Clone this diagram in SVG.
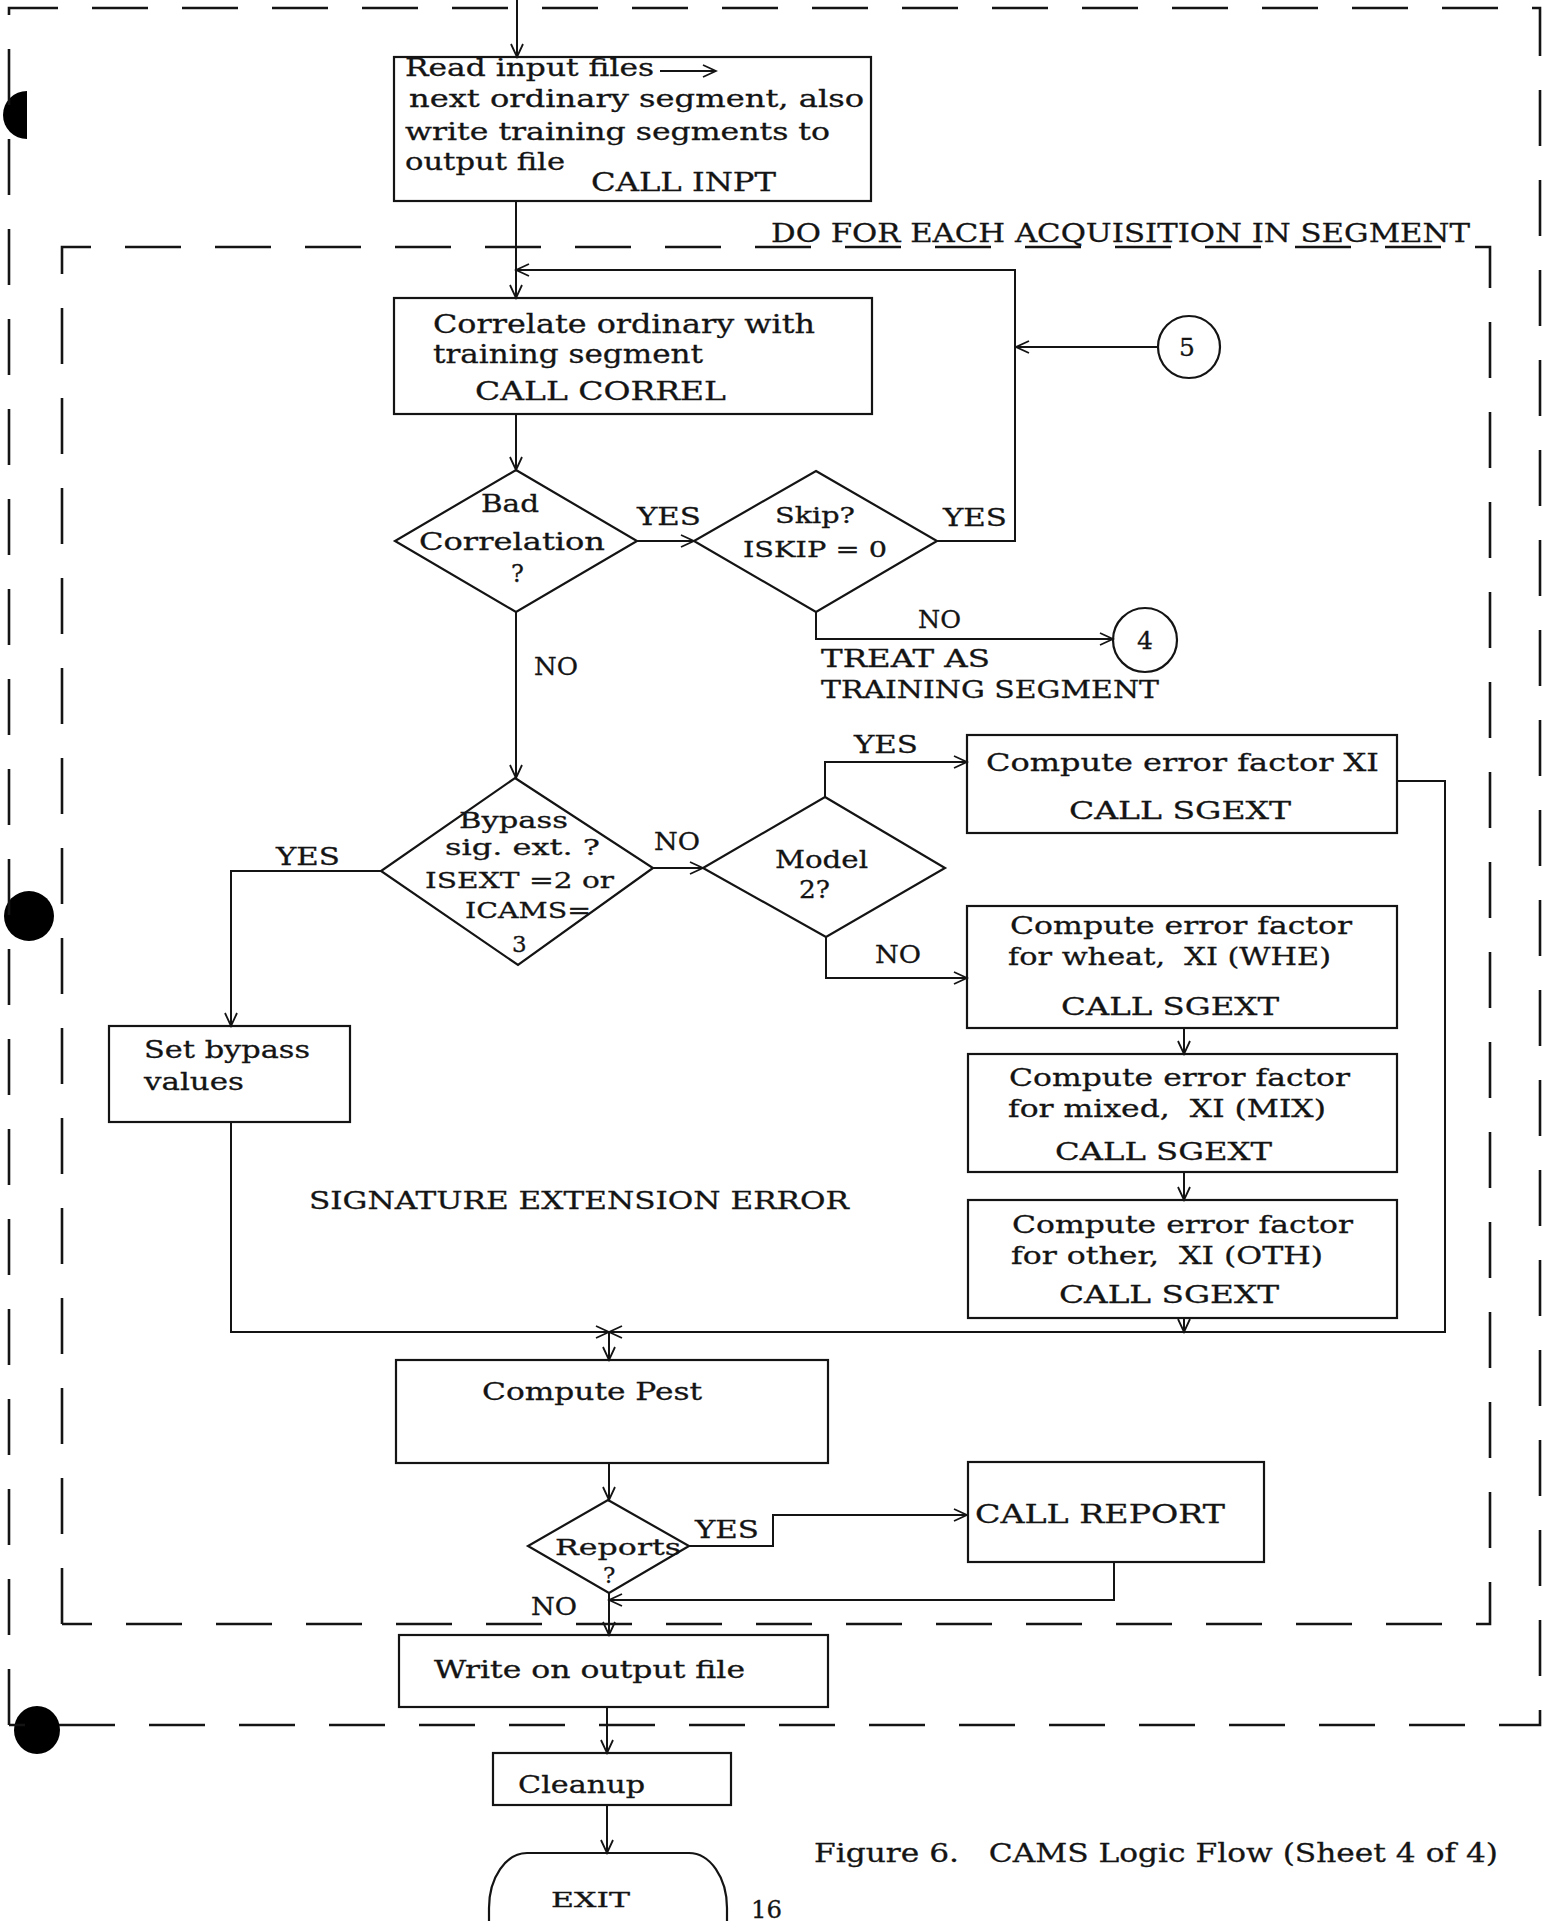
<svg xmlns="http://www.w3.org/2000/svg" width="1556" height="1921" viewBox="0 0 1556 1921">
  <style>
    .t { font-family: "DejaVu Serif", "Liberation Serif", serif; fill: #141414; stroke: #141414; stroke-width: 0.3; }
    .box { fill: none; stroke: #141414; stroke-width: 2.2; }
    .ln { fill: none; stroke: #141414; stroke-width: 2; }
    .arr { fill: none; stroke: #141414; stroke-width: 2; marker-end: url(#head); }
    .dash { fill: none; stroke: #141414; stroke-width: 2.6; stroke-dasharray: 56 34; }
    .hole { fill: #000; }
  </style>
  <defs>
    <marker id="head" markerUnits="userSpaceOnUse" markerWidth="16" markerHeight="16" refX="14" refY="7" orient="auto">
      <path d="M1,1 L14,7 L1,13" fill="none" stroke="#141414" stroke-width="1.8"/>
    </marker>
  </defs>
  <rect width="1556" height="1921" fill="#fff"/>

  <!-- binder holes -->
  <g id="holes">
    <path class="hole" d="M27,91 A24,24 0 0 0 27,139 Z"/>
    <ellipse class="hole" cx="29" cy="916" rx="25" ry="25"/>
    <ellipse class="hole" cx="37" cy="1730" rx="23" ry="24"/>
  </g>

  <!-- outer and inner loop frames -->
  <g id="frames">
    <path class="dash" d="M9,1725 V8 H1540 V1725 H9"/>
    <path class="dash" d="M62,1624 V247 H1490 V1624 H62"/>
    <text class="t" x="771" y="242" font-size="26" textLength="699" lengthAdjust="spacingAndGlyphs">DO FOR EACH ACQUISITION IN SEGMENT</text>
  </g>

  <!-- connectors -->
  <g id="connectors">
    <path class="arr" d="M517,0 V57"/>
    <path class="arr" d="M516,201 V298"/>
    <path class="arr" d="M937,541 H1015 V270 H516"/>
    <path class="arr" d="M1158,347 H1016"/>
    <path class="arr" d="M516,414 V470"/>
    <path class="arr" d="M637,541 H694"/>
    <path class="arr" d="M816,612 V639 H1113"/>
    <path class="arr" d="M516,612 V778"/>
    <path class="arr" d="M381,871 H231 V1026"/>
    <path class="arr" d="M653,868 H703"/>
    <path class="arr" d="M825,797 V762 H967"/>
    <path class="arr" d="M826,937 V978 H967"/>
    <path class="arr" d="M1184,1028 V1054"/>
    <path class="arr" d="M1184,1172 V1200"/>
    <path class="arr" d="M1184,1318 V1332"/>
    <path class="arr" d="M1397,781 H1445 V1332 H609"/>
    <path class="arr" d="M231,1122 V1332 H609"/>
    <path class="arr" d="M609,1332 V1360"/>
    <path class="arr" d="M609,1463 V1500"/>
    <path class="arr" d="M689,1546 H773 V1515 H967"/>
    <path class="arr" d="M1114,1562 V1600 H609"/>
    <path class="arr" d="M609,1593 V1635"/>
    <path class="arr" d="M607,1707 V1753"/>
    <path class="arr" d="M607,1805 V1853"/>
  </g>

  <!-- branch labels -->
  <g id="labels">
    <text class="t" x="637" y="525" font-size="25" textLength="64" lengthAdjust="spacingAndGlyphs">YES</text>
    <text class="t" x="943" y="526" font-size="25" textLength="64" lengthAdjust="spacingAndGlyphs">YES</text>
    <text class="t" x="918" y="628" font-size="24" textLength="43" lengthAdjust="spacingAndGlyphs">NO</text>
    <text class="t" x="821" y="667" font-size="24" textLength="169" lengthAdjust="spacingAndGlyphs">TREAT AS</text>
    <text class="t" x="821" y="698" font-size="24" textLength="338" lengthAdjust="spacingAndGlyphs">TRAINING SEGMENT</text>
    <text class="t" x="534" y="675" font-size="24" textLength="44" lengthAdjust="spacingAndGlyphs">NO</text>
    <text class="t" x="276" y="865" font-size="25" textLength="64" lengthAdjust="spacingAndGlyphs">YES</text>
    <text class="t" x="654" y="850" font-size="24" textLength="46" lengthAdjust="spacingAndGlyphs">NO</text>
    <text class="t" x="854" y="753" font-size="25" textLength="64" lengthAdjust="spacingAndGlyphs">YES</text>
    <text class="t" x="875" y="963" font-size="24" textLength="46" lengthAdjust="spacingAndGlyphs">NO</text>
    <text class="t" x="309" y="1209" font-size="25" textLength="540" lengthAdjust="spacingAndGlyphs">SIGNATURE EXTENSION ERROR</text>
    <text class="t" x="695" y="1538" font-size="24" textLength="64" lengthAdjust="spacingAndGlyphs">YES</text>
    <text class="t" x="531" y="1615" font-size="24" textLength="46" lengthAdjust="spacingAndGlyphs">NO</text>
    <text class="t" x="814" y="1862" font-size="26" textLength="684" lengthAdjust="spacingAndGlyphs" xml:space="preserve">Figure 6.   CAMS Logic Flow (Sheet 4 of 4)</text>
    <text class="t" x="751" y="1918" font-size="24" textLength="31" lengthAdjust="spacingAndGlyphs">16</text>
  </g>

  <g id="n-read">
    <rect class="box" x="394" y="57" width="477" height="144"/>
    <text class="t" x="405" y="76" font-size="24" textLength="249" lengthAdjust="spacingAndGlyphs">Read input files</text>
    <path class="ln" d="M660,71 H716" marker-end="url(#head)"/>
    <text class="t" x="409" y="107" font-size="24" textLength="455" lengthAdjust="spacingAndGlyphs">next ordinary segment, also</text>
    <text class="t" x="405" y="140" font-size="24" textLength="425" lengthAdjust="spacingAndGlyphs">write training segments to</text>
    <text class="t" x="405" y="170" font-size="24" textLength="160" lengthAdjust="spacingAndGlyphs">output file</text>
    <text class="t" x="591" y="191" font-size="26" textLength="185" lengthAdjust="spacingAndGlyphs">CALL INPT</text>
  </g>

  <g id="n-correl">
    <rect class="box" x="394" y="298" width="478" height="116"/>
    <text class="t" x="433" y="333" font-size="26" textLength="382" lengthAdjust="spacingAndGlyphs">Correlate ordinary with</text>
    <text class="t" x="433" y="363" font-size="26" textLength="270" lengthAdjust="spacingAndGlyphs">training segment</text>
    <text class="t" x="475" y="400" font-size="26" textLength="251" lengthAdjust="spacingAndGlyphs">CALL CORREL</text>
  </g>

  <g id="n-badcorr">
    <path class="box" d="M516,470 L637,541 L516,612 L395,541 Z"/>
    <text class="t" x="481" y="512" font-size="24" textLength="58" lengthAdjust="spacingAndGlyphs">Bad</text>
    <text class="t" x="419" y="550" font-size="24" textLength="186" lengthAdjust="spacingAndGlyphs">Correlation</text>
    <text class="t" x="511" y="582" font-size="24">?</text>
  </g>

  <g id="n-skip">
    <path class="box" d="M816,471 L937,541 L816,612 L694,541 Z"/>
    <text class="t" x="775" y="523" font-size="23" textLength="80" lengthAdjust="spacingAndGlyphs">Skip?</text>
    <text class="t" x="743" y="557" font-size="23" textLength="144" lengthAdjust="spacingAndGlyphs">ISKIP = 0</text>
  </g>

  <g id="n-conn5">
    <circle class="box" cx="1189" cy="347" r="31"/>
    <text class="t" x="1179" y="356" font-size="25">5</text>
  </g>

  <g id="n-conn4">
    <circle class="box" cx="1145" cy="640" r="32"/>
    <text class="t" x="1137" y="649" font-size="25">4</text>
  </g>

  <g id="n-bypass">
    <path class="box" d="M515,778 L653,868 L518,965 L381,871 Z"/>
    <text class="t" x="459" y="828" font-size="23" textLength="109" lengthAdjust="spacingAndGlyphs">Bypass</text>
    <text class="t" x="445" y="855" font-size="23" textLength="155" lengthAdjust="spacingAndGlyphs">sig. ext. ?</text>
    <text class="t" x="425" y="888" font-size="23" textLength="189" lengthAdjust="spacingAndGlyphs">ISEXT =2 or</text>
    <text class="t" x="465" y="918" font-size="23" textLength="126" lengthAdjust="spacingAndGlyphs">ICAMS=</text>
    <text class="t" x="512" y="952" font-size="23">3</text>
  </g>

  <g id="n-model">
    <path class="box" d="M825,797 L945,868 L826,937 L703,868 Z"/>
    <text class="t" x="775" y="868" font-size="24" textLength="93" lengthAdjust="spacingAndGlyphs">Model</text>
    <text class="t" x="799" y="898" font-size="24" textLength="31" lengthAdjust="spacingAndGlyphs">2?</text>
  </g>

  <g id="n-xi">
    <rect class="box" x="967" y="735" width="430" height="98"/>
    <text class="t" x="986" y="771" font-size="25" textLength="393" lengthAdjust="spacingAndGlyphs">Compute error factor XI</text>
    <text class="t" x="1069" y="819" font-size="25" textLength="222" lengthAdjust="spacingAndGlyphs">CALL SGEXT</text>
  </g>

  <g id="n-whe">
    <rect class="box" x="967" y="906" width="430" height="122"/>
    <text class="t" x="1010" y="934" font-size="25" textLength="342" lengthAdjust="spacingAndGlyphs">Compute error factor</text>
    <text class="t" x="1008" y="965" font-size="25" textLength="323" lengthAdjust="spacingAndGlyphs" xml:space="preserve">for wheat,  XI (WHE)</text>
    <text class="t" x="1061" y="1015" font-size="25" textLength="218" lengthAdjust="spacingAndGlyphs">CALL SGEXT</text>
  </g>

  <g id="n-mix">
    <rect class="box" x="968" y="1054" width="429" height="118"/>
    <text class="t" x="1009" y="1086" font-size="25" textLength="341" lengthAdjust="spacingAndGlyphs">Compute error factor</text>
    <text class="t" x="1008" y="1117" font-size="25" textLength="318" lengthAdjust="spacingAndGlyphs" xml:space="preserve">for mixed,  XI (MIX)</text>
    <text class="t" x="1055" y="1160" font-size="25" textLength="217" lengthAdjust="spacingAndGlyphs">CALL SGEXT</text>
  </g>

  <g id="n-oth">
    <rect class="box" x="968" y="1200" width="429" height="118"/>
    <text class="t" x="1012" y="1233" font-size="25" textLength="341" lengthAdjust="spacingAndGlyphs">Compute error factor</text>
    <text class="t" x="1011" y="1264" font-size="25" textLength="312" lengthAdjust="spacingAndGlyphs" xml:space="preserve">for other,  XI (OTH)</text>
    <text class="t" x="1059" y="1303" font-size="25" textLength="220" lengthAdjust="spacingAndGlyphs">CALL SGEXT</text>
  </g>

  <g id="n-setbypass">
    <rect class="box" x="109" y="1026" width="241" height="96"/>
    <text class="t" x="144" y="1058" font-size="25" textLength="166" lengthAdjust="spacingAndGlyphs">Set bypass</text>
    <text class="t" x="144" y="1090" font-size="25" textLength="100" lengthAdjust="spacingAndGlyphs">values</text>
  </g>

  <g id="n-pest">
    <rect class="box" x="396" y="1360" width="432" height="103"/>
    <text class="t" x="482" y="1400" font-size="24" textLength="220" lengthAdjust="spacingAndGlyphs">Compute Pest</text>
  </g>

  <g id="n-reports">
    <path class="box" d="M608,1500 L689,1546 L609,1593 L528,1546 Z"/>
    <text class="t" x="555" y="1555" font-size="23" textLength="126" lengthAdjust="spacingAndGlyphs">Reports</text>
    <text class="t" x="603" y="1583" font-size="23">?</text>
  </g>

  <g id="n-report">
    <rect class="box" x="968" y="1462" width="296" height="100"/>
    <text class="t" x="975" y="1523" font-size="26" textLength="250" lengthAdjust="spacingAndGlyphs">CALL REPORT</text>
  </g>

  <g id="n-write">
    <rect class="box" x="399" y="1635" width="429" height="72"/>
    <text class="t" x="434" y="1678" font-size="24" textLength="311" lengthAdjust="spacingAndGlyphs">Write on output file</text>
  </g>

  <g id="n-cleanup">
    <rect class="box" x="493" y="1753" width="238" height="52"/>
    <text class="t" x="518" y="1793" font-size="24" textLength="127" lengthAdjust="spacingAndGlyphs">Cleanup</text>
  </g>

  <g id="n-exit">
    <rect class="box" x="489" y="1853" width="238" height="130" rx="38" ry="55"/>
    <text class="t" x="551" y="1907" font-size="21" textLength="79" lengthAdjust="spacingAndGlyphs">EXIT</text>
  </g>
</svg>
